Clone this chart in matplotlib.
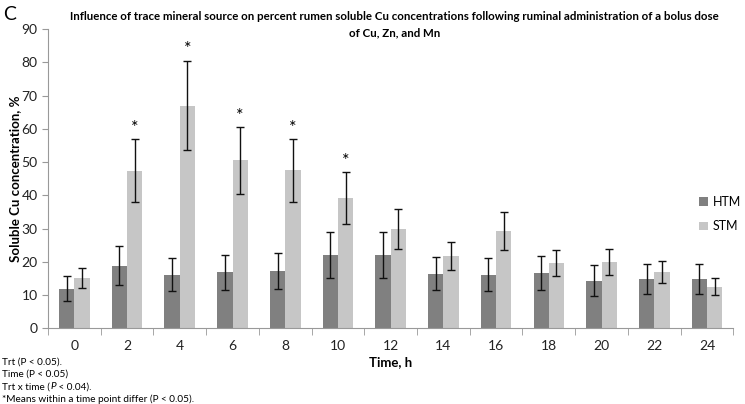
import numpy as np
import matplotlib
matplotlib.use("Agg")
import matplotlib.pyplot as plt

# data
hours = ["0", "2", "4", "6", "8", "10", "12", "14", "16", "18", "20", "22", "24"]
htm = [12.0, 18.9, 16.2, 16.9, 17.3, 22.1, 22.1, 16.5, 16.2, 16.6, 14.4, 14.9, 14.9]
htm_err = [3.7, 5.8, 5.0, 5.2, 5.4, 6.9, 6.9, 5.0, 5.0, 5.1, 4.6, 4.6, 4.6]
stm = [15.2, 47.4, 67.0, 50.5, 47.5, 39.2, 29.9, 21.8, 29.3, 19.6, 20.0, 17.0, 12.6]
stm_err = [3.1, 9.5, 13.5, 10.1, 9.5, 7.8, 6.0, 4.3, 5.8, 3.9, 4.0, 3.4, 2.5]
signif = [False, True, True, True, True, True, False, False, False, False, False, False, False]

plt.rcParams['font.family'] = ['Lato', 'DejaVu Sans']

fig = plt.figure(figsize=(7.45, 4.04), dpi=100)
ax = fig.add_axes([0.0644, 0.187, 0.92, 0.741])

x = np.arange(len(hours))
w = 0.29
ekw = dict(ecolor="#111111", elinewidth=1.0, capsize=3, capthick=1.0)
ax.bar(x - w/2, htm, w, yerr=htm_err, color="#808080", label="HTM", error_kw=ekw, zorder=2)
ax.bar(x + w/2, stm, w, yerr=stm_err, color="#c6c6c6", label="STM", error_kw=ekw, zorder=2)

for i in range(len(hours)):
    if signif[i]:
        ax.text(x[i] + w/2, stm[i] + stm_err[i] + 1.0, "*", ha="center", va="bottom", fontsize=13)

ax.set_xlim(-0.5, len(hours) - 0.5)
ax.set_ylim(0, 90)
ax.set_yticks(np.arange(0, 91, 10))
ax.set_xticks(x)
ax.set_xticklabels(hours)
ax.set_xticks(np.arange(-0.5, len(hours), 1), minor=True)
ax.tick_params(axis="x", which="major", length=0, pad=8, labelsize=10, labelcolor="#222222")
ax.tick_params(axis="x", which="minor", length=5, color="#999999", direction="out")
ax.tick_params(axis="y", length=4, color="#999999", labelsize=10, labelcolor="#222222")

for s in ["top", "right"]:
    ax.spines[s].set_visible(False)
ax.spines["left"].set_color("#999999")
ax.spines["bottom"].set_color("#999999")

ax.set_xlabel("Time, h", fontsize=9.5, fontweight="bold", labelpad=3)
ax.set_ylabel("Soluble Cu concentration, %", fontsize=9.5, fontweight="bold", labelpad=0)

fig.text(0.53, 0.973, "Influence of trace mineral source on percent rumen soluble Cu concentrations following ruminal administration of a bolus dose\nof Cu, Zn, and Mn",
         ha="center", va="top", fontsize=8.3, fontweight="bold", linespacing=1.6)
fig.text(0.004, 0.985, "C", ha="left", va="top", fontsize=14)

leg = fig.legend(loc="upper left", bbox_to_anchor=(0.938, 0.515), frameon=False, fontsize=9,
                 handlelength=0.7, handleheight=0.7, handletextpad=0.4, labelspacing=1.0,
                 borderaxespad=0, borderpad=0)

# footnotes; the P in the third line is italic
y0 = 1 - 362 / 404
dy = 12.4 / 404
fs = 7.2
fig.text(0.003, y0, "Trt (P < 0.05).", ha="left", va="center", fontsize=fs)
fig.text(0.003, y0 - dy, "Time (P < 0.05)", ha="left", va="center", fontsize=fs)
fig.text(0.003, y0 - 3 * dy, "*Means within a time point differ (P < 0.05).", ha="left", va="center", fontsize=fs)

r = fig.canvas.get_renderer()
parts = [("Trt x time (", "normal"), ("P", "italic"), (" < 0.04).", "normal")]
xpos = 0.003
for txt, st in parts:
    t = fig.text(xpos, y0 - 2 * dy, txt, ha="left", va="center", fontsize=fs, fontstyle=st)
    bb = t.get_window_extent(renderer=r)
    xpos = bb.x1 / fig.bbox.width
    if txt.endswith(" "):
        pass

fig.savefig("out.png", dpi=100)
